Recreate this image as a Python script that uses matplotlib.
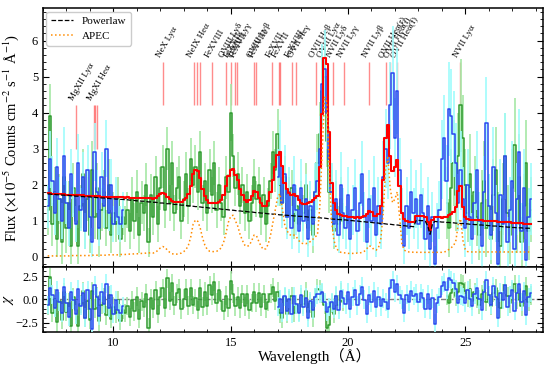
import numpy as np
import matplotlib
matplotlib.use("Agg")
import matplotlib.pyplot as plt
from matplotlib.lines import Line2D
from matplotlib.ticker import MultipleLocator

plt.rcParams["font.family"] = ["Liberation Serif", "DejaVu Serif"]
plt.rcParams["mathtext.fontset"] = "stix"

# Model grid: 0.1 A bins starting at 7.2 A
grid_start = 7.2
bin_width = 0.1

powerlaw = [
    1.74, 1.74, 1.73, 1.73, 1.72, 1.72, 1.71, 1.71,
    1.70, 1.70, 1.69, 1.69, 1.68, 1.68, 1.67, 1.67, 1.66, 1.66,
    1.66, 1.65, 1.65, 1.64, 1.64, 1.63, 1.63, 1.62, 1.62, 1.61,
    1.61, 1.60, 1.60, 1.59, 1.59, 1.58, 1.58, 1.57, 1.57, 1.56,
    1.55, 1.55, 1.54, 1.54, 1.53, 1.52, 1.52, 1.51, 1.51, 1.50,
    1.49, 1.49, 1.48, 1.47, 1.47, 1.46, 1.45, 1.45, 1.44, 1.43,
    1.43, 1.42, 1.41, 1.41, 1.40, 1.39, 1.39, 1.38, 1.37, 1.37,
    1.36, 1.35, 1.35, 1.34, 1.33, 1.33, 1.32, 1.31, 1.31, 1.30,
    1.29, 1.29, 1.28, 1.27, 1.27, 1.26, 1.26, 1.25, 1.24, 1.24,
    1.23, 1.22, 1.22, 1.21, 1.21, 1.20, 1.19, 1.19, 1.18, 1.18,
    1.17, 1.16, 1.16, 1.15, 1.15, 1.14, 1.14, 1.13, 1.13, 1.12,
    1.12, 1.11, 1.11, 1.10, 1.10, 1.09, 1.09, 1.08, 1.08, 1.07,
    1.07, 1.06, 1.05, 1.05, 1.04, 1.04, 1.03, 1.03, 1.02, 1.02,
    1.01, 1.00, 1.00, 0.99, 0.99, 0.98, 0.97, 0.97, 0.96, 0.96,
    0.95, 0.94, 0.94, 0.93, 0.92, 0.92, 0.91, 0.90, 0.90, 0.89,
    0.88, 0.88, 0.87, 0.86, 0.86, 0.85, 0.84, 0.84, 0.83, 1.00,
    1.01, 1.00, 1.00, 0.98, 0.85, 0.62, 0.90, 0.98, 0.97, 0.97,
    0.96, 0.96, 0.95, 0.95, 0.94, 0.94, 0.93, 0.93, 0.92, 0.92,
    0.91, 0.91, 0.90, 0.90, 0.89, 0.89, 0.88, 0.88, 0.87, 0.87,
    0.86, 0.86, 0.85, 0.85, 0.84, 0.84, 0.83, 0.83, 0.82, 0.82,
    0.81, 0.81, 0.80, 0.80, 0.80, 0.79, 0.79, 0.79, 0.78,
]

apec = [
    0.02, 0.02, 0.02, 0.02, 0.02, 0.02, 0.02, 0.02,
    0.02, 0.02, 0.03, 0.03, 0.03, 0.03, 0.03, 0.03, 0.03, 0.03,
    0.03, 0.04, 0.04, 0.04, 0.04, 0.04, 0.04, 0.04, 0.05, 0.05,
    0.05, 0.05, 0.05, 0.06, 0.06, 0.06, 0.07, 0.07, 0.07, 0.08,
    0.08, 0.08, 0.09, 0.09, 0.10, 0.10, 0.11, 0.10, 0.12, 0.18,
    0.24, 0.28, 0.26, 0.18, 0.12, 0.08, 0.07, 0.07, 0.08, 0.10,
    0.14, 0.20, 0.32, 0.55, 0.90, 1.02, 0.98, 0.80, 0.52, 0.32,
    0.20, 0.15, 0.14, 0.14, 0.15, 0.18, 0.25, 0.40, 0.65, 0.95,
    1.12, 1.15, 1.00, 0.85, 0.62, 0.45, 0.32, 0.28, 0.32, 0.45,
    0.60, 0.58, 0.42, 0.28, 0.20, 0.22, 0.35, 0.60, 0.95, 1.30,
    1.65, 1.75, 1.35, 0.90, 0.72, 0.62, 0.58, 0.60, 0.55, 0.45,
    0.38, 0.36, 0.36, 0.38, 0.42, 0.48, 0.55, 0.60, 1.40, 2.90,
    4.45, 4.30, 2.40, 1.00, 0.45, 0.25, 0.15, 0.12, 0.11, 0.10,
    0.09, 0.09, 0.09, 0.09, 0.10, 0.10, 0.12, 0.15, 0.22, 0.30,
    0.28, 0.20, 0.18, 0.25, 0.50, 1.20, 2.40, 2.75, 1.90, 1.50,
    1.60, 1.80, 1.10, 0.35, 0.18, 0.14, 0.13, 0.13, 0.12, 0.12,
    0.12, 0.12, 0.12, 0.12, 0.12, 0.12, 0.12, 0.12, 0.12, 0.12,
    0.12, 0.13, 0.15, 0.20, 0.25, 0.30, 0.45, 0.90, 1.05, 0.45,
    0.20, 0.14, 0.13, 0.13, 0.13, 0.13, 0.13, 0.13, 0.13, 0.13,
    0.13, 0.13, 0.13, 0.13, 0.13, 0.13, 0.13, 0.13, 0.13, 0.13,
    0.13, 0.13, 0.13, 0.13, 0.13, 0.13, 0.13, 0.13, 0.13,
]

# Green spectrum (two segments)
green1_start = 7.2
green1_flux = [
    1.3, 3.9, 0.9, 1.8, 0.5, 1.6, 0.4, 2.2,
    0.8, 1.5, 0.3, 1.9, 1.0, 0.3, 1.4, 2.3, 0.7, 1.6,
    0.6, 2.4, 1.1, 1.9, 0.5, 1.3, 1.8, 0.8, 2.0, 0.6,
    1.2, 0.9, 1.6, 0.5, 1.1, 0.9, 1.3, 0.7, 1.6, 1.0,
    1.8, 0.6, 1.5, 1.2, 2.0, 0.4, 1.7, 1.1, 2.2, 0.9,
    1.9, 2.5, 1.3, 3.0, 1.5, 2.6, 1.2, 1.9, 2.2, 1.0,
    1.6, 2.3, 1.4, 2.7, 2.0, 2.5, 1.8, 2.9, 1.5, 2.1,
    1.2, 2.4, 1.7, 2.6, 1.3, 2.0, 1.5, 1.1, 2.2, 1.8,
    4.0, 2.8, 1.9, 2.3, 1.4, 2.0, 1.2, 1.8, 1.0, 1.5,
    2.2, 1.6, 2.0, 1.1, 1.7, 0.9, 1.4, 2.1, 2.9, 2.4,
    3.4, 2.0, 1.5, 2.2, 1.1, 1.7, 1.9, 1.0, 1.4, 0.9,
    1.6, 1.2, 2.0, 0.8, 1.3, 0.6, 1.8, 2.6, 3.4, 4.6,
    5.0, 3.2, 1.8, 1.8, 0.7, 1.5, 0.9, 1.6, 1.0,
]
green1_err = [
    0.7, 0.9, 0.6, 0.7, 0.5, 0.7, 0.6, 0.6,
    0.7, 0.6, 0.5, 0.7, 0.6, 0.5, 0.6, 0.7, 0.5, 0.6,
    0.5, 0.8, 0.6, 0.7, 0.5, 0.6, 0.6, 0.5, 0.7, 0.5,
    0.6, 0.5, 0.6, 0.5, 0.5, 0.5, 0.5, 0.5, 0.6, 0.5,
    0.6, 0.5, 0.6, 0.5, 0.6, 0.4, 0.6, 0.5, 0.6, 0.5,
    0.6, 0.6, 0.5, 0.6, 0.5, 0.6, 0.5, 0.6, 0.6, 0.5,
    0.5, 0.6, 0.5, 0.6, 0.5, 0.6, 0.5, 0.6, 0.5, 0.5,
    0.5, 0.6, 0.5, 0.6, 0.5, 0.5, 0.5, 0.5, 0.6, 0.5,
    0.8, 0.6, 0.5, 0.6, 0.5, 0.5, 0.5, 0.5, 0.5, 0.5,
    0.5, 0.5, 0.5, 0.5, 0.5, 0.5, 0.5, 0.5, 0.6, 0.6,
    0.7, 0.6, 0.5, 0.6, 0.5, 0.5, 0.5, 0.5, 0.5, 0.5,
    0.5, 0.5, 0.6, 0.5, 0.5, 0.5, 0.6, 0.8, 0.9, 1.0,
    0.9, 0.7, 0.6, 0.6, 0.5, 0.6, 0.5, 0.6, 0.5,
]
green2_start = 24.2
green2_flux = [
    1.5, 0.8, 1.9, 2.6, 1.7, 2.8, 4.2, 3.3,
    2.0, 1.2, 2.3, 0.9, 1.8, 1.1, 0.6, 1.5, 2.1, 0.8,
    1.4, 0.5, 1.7, 2.4, 1.0, 0.3, 1.6, 2.8, 1.2, 0.6,
    1.9, 3.1, 0.9, 2.2, 0.4, 1.4, 2.6, 0.7, 1.3,
]
green2_err = [
    1.0, 0.8, 1.1, 1.2, 1.0, 1.2, 1.3, 1.2,
    1.0, 0.8, 1.1, 0.8, 1.0, 0.8, 0.7, 0.9, 1.1, 0.8,
    0.9, 0.7, 1.0, 1.2, 0.8, 0.7, 1.0, 1.2, 0.8, 0.8,
    1.1, 1.3, 0.8, 1.2, 0.7, 0.9, 1.2, 0.8, 0.9,
]

# Blue spectrum (two segments)
blue1_start = 7.2
blue1_flux = [
    1.4, 2.7, 2.1, 1.2, 2.5, 1.6, 1.0, 2.8,
    1.5, 0.8, 2.3, 1.7, 0.9, 2.6, 1.3, 2.2, 0.7, 2.4,
    1.1, 0.4, 2.9, 1.8, 0.8, 2.2, 1.4, 3.0, 1.2, 2.0,
    0.9, 1.6, 1.1, 0.9, 1.3,
]
blue1_err = [
    0.6, 0.8, 0.7, 0.6, 0.8, 0.6, 0.5, 0.8,
    0.6, 0.5, 0.7, 0.6, 0.5, 0.8, 0.6, 0.7, 0.5, 0.7,
    0.6, 0.4, 0.8, 0.6, 0.5, 0.7, 0.6, 0.8, 0.5, 0.7,
    0.5, 0.6, 0.5, 0.5, 0.5,
]
blue2_start = 17.0
blue2_flux = [
    2.2, 2.9, 1.5, 2.3, 1.1, 1.8, 0.8, 2.0, 1.3, 0.7,
    1.9, 1.0, 1.6, 0.5, 1.4, 0.9, 1.8, 2.1, 3.0, 4.8,
    5.2, 4.0, 2.7, 1.8, 0.9, 1.6, 0.6, 2.0, 1.2, 0.8,
    1.7, 0.5, 1.3, 1.9, 0.7, 1.5, 2.3, 1.1, 0.4, 1.6,
    1.0, 1.9, 0.6, 1.4, 0.9, 2.2, 3.0, 2.6, 4.2, 5.1,
    3.3, 4.6, 2.4, 1.2, 0.3, 1.4, 0.8, 1.8, 1.2, 1.6,
    0.9, 1.7, 1.2, 0.5, 1.4, 0.2, 1.1, -0.2, 0.8, 1.3,
    2.7, 3.3, 2.1, 4.1, 3.9, 3.4, 2.6, 1.5, 2.4, 1.6,
    0.8, 2.0, 1.1, 0.5, 1.5, 2.4, 1.0, 0.3, 1.8, 3.7,
    1.4, 0.6, 2.5, 1.2, -0.2, 1.7, 0.9, 2.8, 0.4, 1.3,
    2.1, 0.2, 1.6, 2.9, 0.7, 1.9, -0.1, 1.1, 1.6,
]
blue2_err = [
    0.8, 0.9, 0.7, 0.8, 0.6, 0.7, 0.6, 0.8, 0.7, 0.6,
    0.8, 0.6, 0.7, 0.5, 0.7, 0.6, 0.8, 0.8, 0.9, 1.1,
    1.1, 1.0, 0.9, 0.8, 0.6, 0.8, 0.5, 0.9, 0.7, 0.6,
    0.8, 0.6, 0.7, 0.8, 0.6, 0.8, 0.9, 0.7, 0.5, 0.8,
    0.7, 0.9, 0.6, 0.8, 0.7, 1.0, 1.1, 1.0, 1.2, 1.3,
    1.1, 1.2, 0.9, 0.7, 0.5, 0.8, 0.6, 0.9, 0.7, 0.8,
    0.7, 0.9, 0.7, 0.6, 0.8, 0.5, 0.7, 0.5, 0.7, 0.8,
    1.1, 1.2, 1.0, 1.3, 1.3, 1.2, 1.1, 0.8, 1.1, 0.9,
    0.8, 1.0, 0.8, 0.7, 0.9, 1.1, 0.8, 0.6, 1.0, 1.3,
    0.9, 0.7, 1.1, 0.8, 0.6, 1.0, 0.8, 1.2, 0.7, 0.9,
    1.1, 0.6, 1.0, 1.2, 0.8, 1.1, 0.6, 0.8, 1.0,
]

# Line identifications: (wavelength, label); None = unlabeled component
line_ids = [
    (8.421, "MgXII Lyα"), (9.169, "MgXI Heα"), (9.231, None), (9.314, None),
    (12.134, "NeX Lyα"), (13.447, "NeIX Heα"), (13.553, None), (13.699, None),
    (14.21, "FeXVIII"), (14.82, "OVIII Lyδ"), (15.01, "FeXVII"),
    (15.18, "OVIII Lyγ"), (15.26, "FeXVII"), (16.006, "OVIII Lyβ"),
    (16.07, "FeXVIII"), (16.78, "FeXVII"), (17.05, "FeXVII"), (17.10, None),
    (17.62, "FeXVIII"), (17.77, "OVII Heγ"), (18.63, "OVII Heβ"),
    (18.97, "OVIII Lyα"), (19.36, "NVII Lyδ"), (19.83, "NVII Lyγ"),
    (20.91, "NVII Lyβ"), (21.60, "OVII Heα(r)"), (21.80, "OVII Heα(i)"),
    (22.10, "OVII Heα(f)"), (24.78, "NVII Lyα"),
]

model_wave = grid_start + bin_width * np.arange(len(apec))
model = np.array(powerlaw) + np.array(apec)


def segment(start, flux, err):
    x = start + bin_width * np.arange(len(flux))
    idx = np.rint((x - grid_start) / bin_width).astype(int)
    flux = np.array(flux)
    err = np.array(err)
    chi = (flux - model[idx]) / err
    return x, flux, err, chi


green_segs = [segment(green1_start, green1_flux, green1_err),
              segment(green2_start, green2_flux, green2_err)]
blue_segs = [segment(blue1_start, blue1_flux, blue1_err),
             segment(blue2_start, blue2_flux, blue2_err)]

fig = plt.figure(figsize=(5.54, 3.69), dpi=100)
ax = fig.add_axes([0.0776, 0.2772, 0.902, 0.7003])
axr = fig.add_axes([0.0776, 0.1003, 0.902, 0.1769], sharex=ax)

# Line markers and labels (Mg lines sit lower)
for wl, name in line_ids:
    if wl < 10:
        y0, y1, ylab = 3.0, 4.2, 4.3
    else:
        y0, y1, ylab = 4.2, 5.4, 5.5
    ax.vlines(wl, y0, y1, color="red", alpha=0.45, lw=1.0, zorder=1)
    if name:
        ax.text(wl - 0.05, ylab, name, rotation=60, rotation_mode="anchor",
                ha="left", va="bottom", fontsize=6.6)

green_c, green_e = "#2e9a2e", "#a6e8a6"
blue_c, blue_e = "#2846f0", "#a0fcfc"

for x, f, e, chi in green_segs:
    ax.errorbar(x, f, yerr=e, fmt="none", ecolor=green_e, elinewidth=1.2,
                capsize=0, zorder=2)
    ax.step(x, f, where="mid", color=green_c, lw=1.1, zorder=3)
for x, f, e, chi in blue_segs:
    ax.errorbar(x, f, yerr=e, fmt="none", ecolor=blue_e, elinewidth=1.2,
                capsize=0, zorder=4)
    ax.step(x, f, where="mid", color=blue_c, lw=1.1, zorder=5)

ax.step(model_wave, model, where="mid", color="red", lw=1.5, zorder=7)
ax.plot(model_wave, powerlaw, color="black", ls="--", lw=0.9, zorder=8)
ax.plot(model_wave, apec, color="darkorange", ls=":", lw=1.1, zorder=8)

handles = [Line2D([], [], color="black", ls="--", lw=0.9),
           Line2D([], [], color="darkorange", ls=":", lw=1.1)]
ax.legend(handles, ["Powerlaw", "APEC"], loc="upper left", fontsize=8,
          framealpha=1, borderaxespad=0.3)

ax.set_xlim(7.0, 28.3)
ax.set_ylim(-0.28, 6.9)
ax.set_ylabel(r"Flux ($\times10^{-5}$ Counts cm$^{-2}$ s$^{-1}$ Å$^{-1}$)",
              fontsize=10.5)
ax.yaxis.set_major_locator(MultipleLocator(1))
ax.yaxis.set_minor_locator(MultipleLocator(0.2))
ax.xaxis.set_major_locator(MultipleLocator(5))
ax.xaxis.set_minor_locator(MultipleLocator(1))
ax.tick_params(labelbottom=False)

# Residuals
axr.axhline(0, color="gray", ls="--", lw=1.0, zorder=1)
for x, f, e, chi in green_segs:
    axr.errorbar(x, chi, yerr=1.0, fmt="none", ecolor=green_e, elinewidth=1.2,
                 capsize=0, zorder=2)
    axr.step(x, chi, where="mid", color=green_c, lw=1.1, zorder=3)
for x, f, e, chi in blue_segs:
    axr.errorbar(x, chi, yerr=1.0, fmt="none", ecolor=blue_e, elinewidth=1.2,
                 capsize=0, zorder=4)
    axr.step(x, chi, where="mid", color=blue_c, lw=1.1, zorder=5)
axr.set_ylim(-3.5, 3.5)
axr.yaxis.set_major_locator(MultipleLocator(2.5))
axr.yaxis.set_minor_locator(MultipleLocator(0.5))
axr.set_ylabel(r"$\chi$", fontsize=11)
axr.set_xlabel("Wavelength（Å）", fontsize=11,
               family=["Liberation Serif", "Noto Sans CJK SC"])

for a in (ax, axr):
    a.tick_params(which="both", direction="in", top=True, right=True,
                  labelsize=9)
    a.tick_params(which="major", length=4)
    a.tick_params(which="minor", length=2)
    for s in a.spines.values():
        s.set_linewidth(1.1)

ax.yaxis.set_label_coords(-0.045, 0.5)
axr.yaxis.set_label_coords(-0.055, 0.5)
axr.xaxis.set_label_coords(0.545, -0.25)

fig.savefig("out.png", dpi=100)
